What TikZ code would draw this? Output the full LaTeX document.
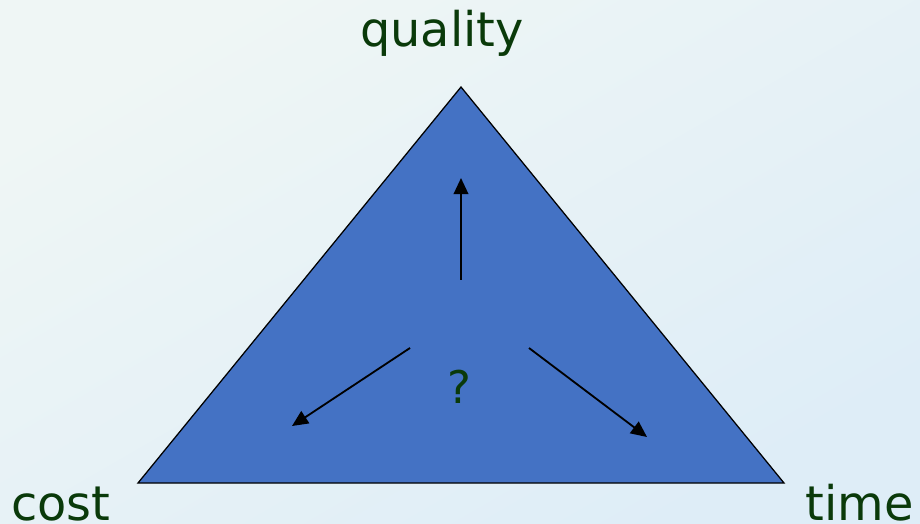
\documentclass[tikz,border=0pt]{standalone}
\usepackage{fontspec}
\setmainfont{DejaVu Sans}
\definecolor{TriBlue}{HTML}{4472C4}
\definecolor{LabelGreen}{HTML}{0A3A0A}
\definecolor{BgLight}{HTML}{EFF6F5}
\definecolor{BgBlue}{HTML}{DEEDF7}
\usetikzlibrary{positioning, arrows.meta, calc}

\begin{document}
\begin{tikzpicture}[
  x=0.025cm, y=-0.025cm,
  lbl/.style={text=LabelGreen, font=\fontsize{34}{40}\selectfont, inner sep=0pt},
  qmark/.style={text=LabelGreen, font=\fontsize{32}{38}\selectfont, inner sep=0pt},
  tri/.style={draw=black, line width=0.9pt, fill=TriBlue, line join=miter},
  arr/.style={-{Triangle[length=0.40cm, width=0.36cm]}, line width=1.3pt, black},
]
  % background
  \shade[top color=BgLight, bottom color=BgBlue, shading angle=30]
    (0,0) rectangle (920,524);
  \useasboundingbox (0,0) rectangle (920,524);

  % corners of the triangle
  \coordinate (top) at (461,87);
  \coordinate (bl) at (138,483);
  \coordinate (br) at (784,483);
  \draw[tri] (top) -- (bl) -- (br) -- cycle;

  % labels
  \node[lbl, anchor=base] (quality) at (442,47) {quality};
  \node[lbl, anchor=base west] (cost) at (11,520) {cost};
  \node[lbl, anchor=base east] (time) at (914,520) {time};
  \node[qmark, anchor=base] (q) at (459,403) {?};

  % arrows
  \coordinate (upS) at (461,280);
  \coordinate (upE) at (461,178);
  \coordinate (leftS) at (410,348);
  \coordinate (leftE) at (292,426);
  \coordinate (rightS) at (529,348);
  \coordinate (rightE) at (647,437);
  \draw[arr, line width=1.6pt] (upS) -- (upE);
  \draw[arr] (leftS) -- (leftE);
  \draw[arr] (rightS) -- (rightE);
\end{tikzpicture}
\end{document}
